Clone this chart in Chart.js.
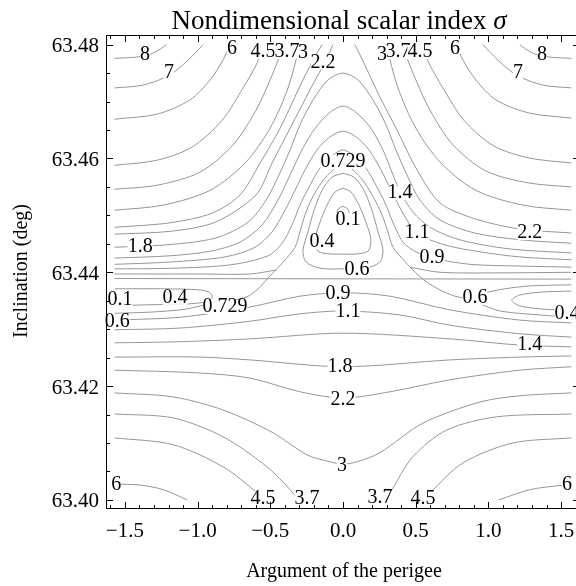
<!DOCTYPE html>
<html>
<head>
<meta charset="utf-8">
<title>Nondimensional scalar index</title>
<script src="https://cdn.jsdelivr.net/npm/chart.js@4.4.1/dist/chart.umd.min.js"></script>
<style>
  html, body { margin: 0; padding: 0; background: #fff; overflow: hidden; }
  #card-container { position: relative; width: 590px; height: 586px; }
</style>
</head>
<body>
<div id="card-container"><canvas id="myChart"></canvas></div>
<script>
// axis ticks
var xMajorTicks = [-1.5, -1.0, -0.5, 0.0, 0.5, 1.0, 1.5];
var xMinorTicks = [-1.6, -1.4, -1.3, -1.2, -1.1, -0.9, -0.8, -0.7, -0.6, -0.4, -0.3, -0.2, -0.1,
                   0.1, 0.2, 0.3, 0.4, 0.6, 0.7, 0.8, 0.9, 1.1, 1.2, 1.3, 1.4, 1.6];
var yMajorTicks = [63.40, 63.42, 63.44, 63.46, 63.48];
var yMinorTicks = [63.405, 63.41, 63.415, 63.425, 63.43, 63.435, 63.445, 63.45, 63.455, 63.465, 63.47, 63.475];

// contour lines, [perigee argument (rad), inclination (deg)]
// upper arcs, left edge to top edge
var sigma8L  = [[-1.571,63.4776],[-1.430,63.4778],[-1.326,63.4783],[-1.258,63.4792],[-1.216,63.4800]];
var sigma7L  = [[-1.571,63.4724],[-1.375,63.4729],[-1.196,63.4746],[-1.065,63.4773],[-0.962,63.4800]];
var sigma6L  = [[-1.571,63.4669],[-1.278,63.4678],[-1.052,63.4703],[-0.914,63.4738],[-0.825,63.4773],[-0.777,63.4800]];
var sigma45L = [[-1.571,63.4588],[-1.278,63.4597],[-1.038,63.4620],[-0.832,63.4667],[-0.687,63.4724],[-0.598,63.4764],[-0.536,63.4800]];
var sigma37L = [[-1.571,63.4546],[-1.278,63.4553],[-0.983,63.4576],[-0.756,63.4624],[-0.598,63.4685],[-0.488,63.4746],[-0.405,63.4800]];
var sigma3L  = [[-1.571,63.4509],[-1.237,63.4518],[-0.914,63.4544],[-0.674,63.4592],[-0.502,63.4653],[-0.378,63.4724],[-0.296,63.4800]];
var sigma22L = [[-1.571,63.4479],[-1.189,63.4487],[-0.900,63.4504],[-0.708,63.4536],[-0.570,63.4592],[-0.433,63.4653],[-0.302,63.4724],[-0.206,63.4773],[-0.144,63.4800]];
var sigma22Lb = [[-1.571,63.4467],[-1.189,63.4472],[-0.880,63.4488],[-0.598,63.4536],[-0.488,63.4592],[-0.364,63.4653],[-0.220,63.4724],[-0.117,63.4773],[-0.069,63.4800]];
// upper arcs, right edge to top edge
var sigma8R  = [[1.571,63.4776],[1.430,63.4778],[1.326,63.4783],[1.258,63.4792],[1.216,63.4800]];
var sigma7R  = [[1.571,63.4724],[1.375,63.4729],[1.196,63.4746],[1.065,63.4773],[0.962,63.4800]];
var sigma6R  = [[1.571,63.4671],[1.278,63.4680],[1.052,63.4703],[0.914,63.4738],[0.825,63.4773],[0.777,63.4800]];
var sigma45R = [[1.571,63.4592],[1.278,63.4601],[1.038,63.4622],[0.832,63.4667],[0.687,63.4724],[0.598,63.4764],[0.536,63.4800]];
var sigma37R = [[1.571,63.4550],[1.278,63.4557],[0.983,63.4578],[0.756,63.4624],[0.598,63.4685],[0.488,63.4746],[0.405,63.4800]];
var sigma3R  = [[1.571,63.4509],[1.237,63.4518],[0.914,63.4544],[0.674,63.4592],[0.502,63.4653],[0.378,63.4724],[0.296,63.4800]];
var sigma22R = [[1.571,63.4469],[1.216,63.4476],[0.907,63.4494],[0.667,63.4522],[0.509,63.4580],[0.371,63.4650],[0.254,63.4708],[0.151,63.4764],[0.082,63.4800]];

// arches over the central basin
var sigma18Arch = [[-1.571,63.4444],[-1.223,63.4448],[-0.880,63.4460],[-0.653,63.4488],[-0.529,63.4527],[-0.440,63.4571],[-0.364,63.4615],[-0.296,63.4659],[-0.206,63.4703],[-0.103,63.4738],[0,63.4750],[0.103,63.4738],[0.206,63.4703],[0.296,63.4659],[0.364,63.4615],[0.440,63.4571],[0.529,63.4527],[0.667,63.4492],[0.907,63.4469],[1.223,63.4457],[1.571,63.4451]];
var sigma14Arch = [[-1.571,63.4425],[-1.189,63.4429],[-0.914,63.4437],[-0.708,63.4453],[-0.557,63.4483],[-0.447,63.4527],[-0.364,63.4571],[-0.282,63.4615],[-0.192,63.4653],[-0.089,63.4681],[0,63.4692],[0.089,63.4681],[0.192,63.4653],[0.282,63.4611],[0.344,63.4571],[0.399,63.4539],[0.481,63.4506],[0.598,63.4479],[0.804,63.4457],[1.148,63.4441],[1.571,63.4434]];
var sigma11Arch = [[-1.571,63.4414],[-1.189,63.4418],[-0.811,63.4427],[-0.605,63.4444],[-0.488,63.4471],[-0.399,63.4509],[-0.330,63.4544],[-0.261,63.4580],[-0.179,63.4615],[-0.089,63.4638],[0,63.4648],[0.089,63.4638],[0.179,63.4615],[0.261,63.4580],[0.337,63.4541],[0.412,63.4504],[0.509,63.4469],[0.701,63.4448],[0.942,63.4436],[1.216,63.4427],[1.571,63.4422]];
var sigma09Arch = [[-1.571,63.4406],[-1.189,63.4407],[-0.777,63.4413],[-0.515,63.4429],[-0.419,63.4451],[-0.351,63.4483],[-0.296,63.4518],[-0.227,63.4553],[-0.158,63.4583],[-0.069,63.4606],[0,63.4615],[0.069,63.4606],[0.158,63.4583],[0.227,63.4553],[0.296,63.4518],[0.351,63.4483],[0.419,63.4451],[0.515,63.4434],[0.612,63.4425],[0.873,63.4414],[1.216,63.4411],[1.571,63.4409]];
var sigma0729 = [[-1.571,63.4328],[-1.326,63.4330],[-1.086,63.4335],[-0.948,63.4343],[-0.811,63.4348],[-0.660,63.4357],[-0.584,63.4371],[-0.522,63.4388],[-0.412,63.4418],[-0.330,63.4444],[-0.296,63.4471],[-0.261,63.4501],[-0.213,63.4530],[-0.144,63.4559],[-0.069,63.4580],[0,63.4592],[0.069,63.4580],[0.144,63.4559],[0.213,63.4530],[0.268,63.4501],[0.309,63.4471],[0.344,63.4444],[0.405,63.4425],[0.481,63.4404],[0.564,63.4385],[0.667,63.4369],[0.770,63.4358],[0.825,63.4355]];
var sigma0729L = [[-1.571,63.4397],[-0.983,63.4397],[-0.639,63.4397],[-0.460,63.4404]];
var sigma0729R = [[0.460,63.4409],[0.667,63.4400],[1.079,63.4399],[1.571,63.4400]];
var jumpLine = [[-1.571,63.4389],[1.571,63.4388]];

// closed basin around omega = 0
var basin06 = [[0,63.4574],[0.076,63.4567],[0.144,63.4544],[0.199,63.4509],[0.241,63.4471],[0.275,63.4439],[0.254,63.4418],[0.151,63.4407],[0,63.4406],[-0.151,63.4407],[-0.254,63.4418],[-0.275,63.4439],[-0.241,63.4471],[-0.199,63.4509],[-0.144,63.4544],[-0.076,63.4567],[0,63.4574]];
var basin04 = [[0,63.4548],[0.055,63.4541],[0.110,63.4518],[0.158,63.4488],[0.192,63.4457],[0.172,63.4437],[0.082,63.4432],[0,63.4432],[-0.082,63.4432],[-0.172,63.4437],[-0.192,63.4457],[-0.158,63.4488],[-0.110,63.4518],[-0.055,63.4541],[0,63.4548]];
var basin01 = [[0,63.4516],[0.034,63.4511],[0.041,63.4499],[0,63.4494],[-0.041,63.4499],[-0.034,63.4511],[0,63.4516]];

// lobes under the jump line
var lobeLeft  = [[-1.571,63.4371],[-1.258,63.4371],[-0.983,63.4369],[-0.914,63.4364],[-0.900,63.4355],[-0.948,63.4348],[-1.086,63.4344],[-1.326,63.4343],[-1.571,63.4341]];
var lobeRight = [[1.571,63.4367],[1.354,63.4365],[1.216,63.4360],[1.161,63.4351],[1.216,63.4341],[1.388,63.4335],[1.571,63.4334]];
var sigma06Upper = [[0.976,63.4364],[1.113,63.4371],[1.285,63.4376],[1.571,63.4378]];
var sigma06Lower = [[0.928,63.4346],[1.079,63.4332],[1.354,63.4325],[1.571,63.4321]];

// lower lines
var sigma09Low = [[-1.571,63.4316],[-1.120,63.4321],[-0.639,63.4339],[-0.296,63.4358],[0,63.4364],[0.323,63.4358],[0.735,63.4334],[1.216,63.4316],[1.571,63.4311]];
var sigma11Low = [[-1.571,63.4299],[-1.120,63.4302],[-0.639,63.4314],[-0.296,63.4327],[0,63.4332],[0.392,63.4325],[0.735,63.4307],[1.216,63.4292],[1.571,63.4286]];
var sigma14Low = [[-1.571,63.4276],[-1.120,63.4278],[-0.639,63.4283],[0,63.4293],[0.735,63.4283],[1.216,63.4272],[1.571,63.4269]];
var sigma18Low = [[-1.571,63.4251],[-0.983,63.4251],[-0.639,63.4246],[0,63.4234],[0.735,63.4246],[1.216,63.4251],[1.571,63.4253]];
var sigma22Low = [[-1.571,63.4228],[-0.983,63.4223],[-0.639,63.4214],[-0.296,63.4190],[0,63.4179],[0.323,63.4190],[0.735,63.4211],[1.216,63.4228],[1.571,63.4234]];
var sigma3Low  = [[-1.571,63.4188],[-1.168,63.4181],[-0.825,63.4158],[-0.481,63.4118],[-0.247,63.4079],[-0.089,63.4067],[0,63.4063],[0.096,63.4067],[0.254,63.4083],[0.550,63.4135],[0.942,63.4172],[1.216,63.4183],[1.571,63.4188]];
var sigma37LowL = [[-1.571,63.4151],[-1.168,63.4144],[-0.825,63.4111],[-0.522,63.4058],[-0.364,63.4018],[-0.309,63.4000]];
var sigma37LowR = [[0.296,63.4000],[0.337,63.4018],[0.481,63.4076],[0.715,63.4123],[1.058,63.4146],[1.571,63.4151]];
var sigma45LowL = [[-1.571,63.4109],[-1.168,63.4097],[-0.825,63.4058],[-0.591,63.4012],[-0.570,63.4000]];
var sigma45LowR = [[0.570,63.4000],[0.598,63.4012],[0.825,63.4065],[1.168,63.4100],[1.571,63.4109]];
var sigma6LowL = [[-1.571,63.4028],[-1.395,63.4026],[-1.237,63.4018],[-1.072,63.4000]];
var sigma6LowR = [[1.072,63.4000],[1.285,63.4018],[1.512,63.4026],[1.571,63.4028]];

// contour labels
var labelTexts = ['8','7','6','4.5','3.7','3','2.2','3.7','3','4.5','6','7','8',
                  '0.729','1.4','0.1','0.4','1.1','0.9','0.6','2.2','1.8',
                  '0.1','0.4','0.6','0.729','0.9','1.1','0.6','0.4','1.4',
                  '1.8','2.2','3','6','4.5','3.7','3.7','4.5','6'];
var labelXs = [-1.361,-1.196,-0.763,-0.550,-0.385,-0.275,-0.137,0.378,0.268,0.529,0.770,1.203,1.368,
               0,0.392,0.034,-0.144,0.509,0.612,0.096,1.285,-1.395,
               -1.533,-1.155,-1.553,-0.811,-0.034,0.034,0.907,1.540,1.285,
               -0.021,0,-0.007,-1.560,-0.550,-0.247,0.254,0.550,1.540];
var labelYs = [63.4782,63.4750,63.4792,63.4787,63.4787,63.4785,63.4769,63.4787,63.4783,63.4787,63.4792,63.4750,63.4783,
               63.4594,63.4539,63.4492,63.4453,63.4469,63.4425,63.4404,63.4469,63.4444,
               63.4351,63.4355,63.4313,63.4339,63.4362,63.4330,63.4355,63.4327,63.4272,
               63.4234,63.4176,63.4060,63.4026,63.4002,63.4002,63.4004,63.4002,63.4026];

var contourLines = [
    sigma8L, sigma7L, sigma6L, sigma45L, sigma37L, sigma3L, sigma22L, sigma22Lb,
    sigma8R, sigma7R, sigma6R, sigma45R, sigma37R, sigma3R, sigma22R,
    sigma18Arch, sigma14Arch, sigma11Arch, sigma09Arch,
    sigma0729, sigma0729L, sigma0729R, jumpLine,
    basin06, basin04, basin01,
    lobeLeft, lobeRight, sigma06Upper, sigma06Lower,
    sigma09Low, sigma11Low, sigma14Low, sigma18Low, sigma22Low, sigma3Low,
    sigma37LowL, sigma37LowR, sigma45LowL, sigma45LowR, sigma6LowL, sigma6LowR
];

var serif = '"Liberation Serif", "DejaVu Serif", serif';
Chart.defaults.font.family = serif;
Chart.defaults.color = '#000';

function fmtX(v) {
    return Number(v).toFixed(1).replace('-', '\u2212');
}

// frame, inward ticks, labels and titles
var contourExtras = {
    id: 'contourExtras',
    afterDatasetsDraw: function(chart) {
        var ctx = chart.ctx;
        var xs = chart.scales.x, ys = chart.scales.y;
        ctx.save();
        ctx.font = '20px ' + serif;
        ctx.textAlign = 'center';
        ctx.textBaseline = 'middle';
        for (var i = 0; i < labelTexts.length; i++) {
            var px = xs.getPixelForValue(labelXs[i]);
            var py = ys.getPixelForValue(labelYs[i]);
            var w = ctx.measureText(labelTexts[i]).width;
            ctx.fillStyle = '#fff';
            ctx.fillRect(px - w / 2, py - 7, w, 14);
            ctx.fillStyle = '#000';
            ctx.fillText(labelTexts[i], px, py);
        }
        ctx.restore();
    },
    afterDraw: function(chart) {
        var ctx = chart.ctx;
        var a = chart.chartArea;
        var xs = chart.scales.x, ys = chart.scales.y;
        ctx.save();
        ctx.strokeStyle = '#000';
        ctx.lineWidth = 1;
        ctx.strokeRect(a.left + 0.5, a.top + 0.5, a.right - a.left - 1, a.bottom - a.top - 1);

        function xTick(v, len) {
            var px = Math.round(xs.getPixelForValue(v)) + 0.5;
            ctx.moveTo(px, a.bottom); ctx.lineTo(px, a.bottom - len);
            ctx.moveTo(px, a.top); ctx.lineTo(px, a.top + len);
        }
        function yTick(v, len) {
            var py = Math.round(ys.getPixelForValue(v)) + 0.5;
            ctx.moveTo(a.left, py); ctx.lineTo(a.left + len, py);
            ctx.moveTo(a.right, py); ctx.lineTo(a.right - len, py);
        }
        ctx.beginPath();
        xMajorTicks.forEach(function(v) { xTick(v, 7); });
        xMinorTicks.forEach(function(v) { xTick(v, 4); });
        yMajorTicks.forEach(function(v) { yTick(v, 7); });
        yMinorTicks.forEach(function(v) { yTick(v, 4); });
        ctx.stroke();

        // title with italic sigma
        var t1 = 'Nondimensional scalar index ';
        ctx.fillStyle = '#000';
        ctx.textBaseline = 'alphabetic';
        ctx.textAlign = 'left';
        ctx.font = '27px ' + serif;
        var w1 = ctx.measureText(t1).width;
        ctx.font = 'italic 27px ' + serif;
        var w2 = ctx.measureText('\u03c3').width;
        var x0 = 339 - (w1 + w2) / 2;
        ctx.font = '27px ' + serif;
        ctx.fillText(t1, x0, 29);
        ctx.font = 'italic 27px ' + serif;
        ctx.fillText('\u03c3', x0 + w1, 29);

        // axis titles
        ctx.font = '20px ' + serif;
        ctx.textAlign = 'center';
        ctx.fillText('Argument of the perigee', 344, 577);
        ctx.translate(27, 271);
        ctx.rotate(-Math.PI / 2);
        ctx.fillText('Inclination (deg)', 0, 0);
        ctx.restore();
    }
};

var datasets = contourLines.map(function(line) {
    return {
        data: line.map(function(p) { return { x: p[0], y: p[1] }; }),
        showLine: true,
        borderColor: 'rgb(150,150,150)',
        borderWidth: 1,
        pointRadius: 0,
        tension: 0.3,
        fill: false
    };
});

var ctx = document.getElementById('myChart').getContext('2d');
var myChart = new Chart(ctx, {
    type: 'scatter',
    data: { datasets: datasets },
    options: {
        responsive: true,
        maintainAspectRatio: false,
        animation: false,
        events: [],
        layout: { padding: { top: 35, right: 10, left: 0, bottom: 0 } },
        plugins: { legend: { display: false }, tooltip: { enabled: false }, title: { display: false } },
        scales: {
            x: {
                type: 'linear',
                min: -1.63,
                max: 1.63,
                grid: { display: false, drawTicks: false },
                border: { display: false },
                ticks: { font: { size: 21, family: serif }, color: '#000', padding: 10, maxRotation: 0, autoSkip: false, callback: fmtX },
                afterBuildTicks: function(scale) { scale.ticks = xMajorTicks.map(function(v) { return { value: v }; }); },
                afterFit: function(scale) { scale.height = 77; }
            },
            y: {
                type: 'linear',
                min: 63.3984,
                max: 63.4817,
                grid: { display: false, drawTicks: false },
                border: { display: false },
                ticks: { font: { size: 21, family: serif }, color: '#000', padding: 7, labelOffset: 2, autoSkip: false,
                         callback: function(v) { return Number(v).toFixed(2); } },
                afterBuildTicks: function(scale) { scale.ticks = yMajorTicks.map(function(v) { return { value: v }; }); },
                afterFit: function(scale) { scale.width = 106; }
            }
        }
    },
    plugins: [contourExtras]
});
</script>
</body>
</html>
